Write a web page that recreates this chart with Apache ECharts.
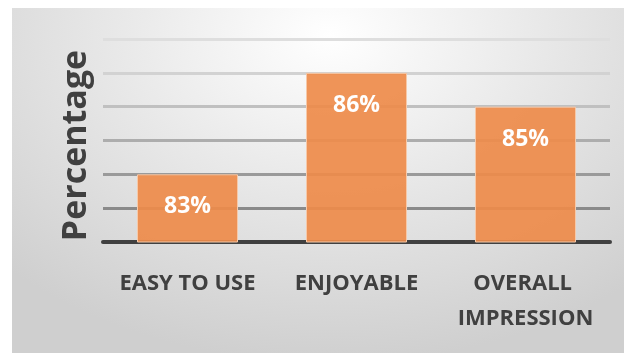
<!DOCTYPE html>
<html>
<head>
<meta charset="utf-8">
<script src="https://cdn.jsdelivr.net/npm/echarts@6/dist/echarts.min.js"></script>
<style>
  html, body { margin: 0; padding: 0; background: #fff; }
  #wrap {
    position: absolute; left: 12px; top: 8px; width: 612px; height: 345px;
    background: radial-gradient(ellipse 75% 95% at 52% 8%, #ffffff 0%, #e9e9e9 45%, #cfcfcf 100%);
  }
  #chart { position: absolute; left: 0; top: 0; width: 624px; height: 355px; }
</style>
</head>
<body>
<div id="wrap"></div>
<div id="chart"></div>
<script>
// Survey results, percent agreeing
const categories = ["EASY TO USE", "ENJOYABLE", "OVERALL IMPRESSION"];
const values = [83, 86, 85];
const yMin = 81;
const yMax = 87;

// gridlines fade out towards the top
const gridColors = ["#404040", "#8a8a8a", "#9a9a9a", "#adadad", "#c0c0c0", "#d2d2d2", "#dedede"];
const font = "Open Sans";

const chart = echarts.init(document.getElementById("chart"));
chart.setOption({
  backgroundColor: "transparent",
  textStyle: { fontFamily: font },
  grid: { left: 103, right: 14, top: 39, bottom: 113 },
  xAxis: {
    type: "category",
    data: categories,
    axisLine: { lineStyle: { color: "#404040", width: 4 } },
    axisTick: { show: false },
    axisLabel: {
      color: "#404040", fontSize: 22, fontWeight: "bold", fontFamily: font,
      margin: 24, lineHeight: 35, width: 170, overflow: "break",
      interval: 0
    }
  },
  yAxis: {
    type: "value",
    min: yMin, max: yMax, interval: 1,
    name: "Percentage",
    nameLocation: "middle",
    nameGap: 10,
    nameTextStyle: {
      color: "#404040", fontSize: 34, fontWeight: "bold", fontFamily: font,
      padding: [0, 10, 0, 0]
    },
    axisLabel: { show: false },
    axisLine: { show: false },
    axisTick: { show: false },
    splitLine: { lineStyle: { color: gridColors, width: 3 } }
  },
  series: [{
    type: "bar",
    data: values,
    barWidth: 101,
    itemStyle: { color: "rgba(238,139,74,0.92)", borderColor: "#f6c9a9", borderWidth: 1 },
    label: {
      show: true, position: "insideTop", distance: 21,
      formatter: p => p.value + "%",
      color: "#fff", fontSize: 23, fontWeight: "bold", fontFamily: font
    }
  }]
});
</script>
</body>
</html>
